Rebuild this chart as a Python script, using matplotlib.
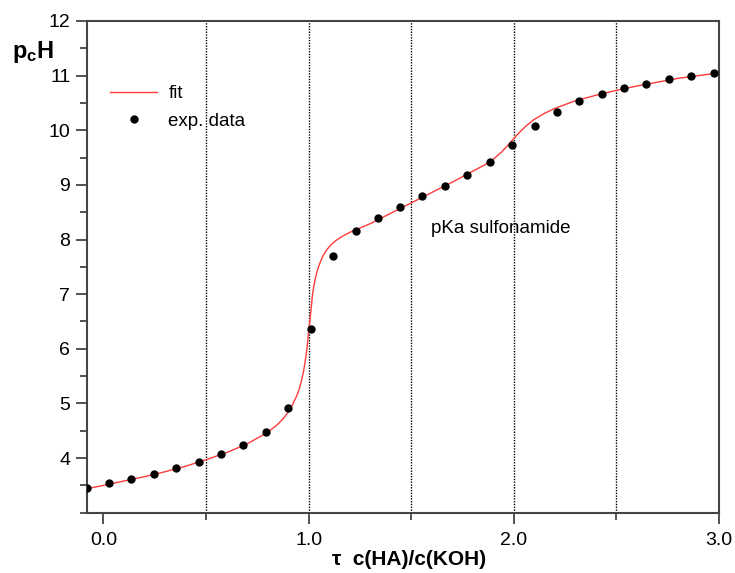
import matplotlib.pyplot as plt
from matplotlib.ticker import MultipleLocator, FixedLocator

plt.rcParams['font.family'] = ['Liberation Sans', 'DejaVu Sans']
plt.rcParams['mathtext.fontset'] = 'custom'
plt.rcParams['mathtext.bf'] = 'Liberation Sans:bold'
plt.rcParams['mathtext.rm'] = 'Liberation Sans'

tau_exp = [-0.08, 0.027, 0.136, 0.245, 0.354, 0.464, 0.573, 0.681, 0.79, 0.90,
           1.01, 1.117, 1.229, 1.337, 1.446, 1.555, 1.664, 1.774, 1.883, 1.992,
           2.101, 2.21, 2.32, 2.43, 2.537, 2.646, 2.755, 2.866, 2.974]
pch_exp = [3.46, 3.54, 3.62, 3.71, 3.81, 3.93, 4.07, 4.24, 4.48, 4.92,
           6.36, 7.70, 8.15, 8.40, 8.60, 8.79, 8.98, 9.18, 9.41, 9.73,
           10.07, 10.34, 10.54, 10.66, 10.77, 10.85, 10.93, 10.99, 11.04]

# fit curve
tau_fit = [-0.08, 0.0, 0.1, 0.2, 0.3, 0.4, 0.5, 0.6, 0.7, 0.8, 0.85, 0.88, 0.91,
           0.941, 0.955, 0.966, 0.975, 0.982, 0.988, 0.993, 0.997, 1.001, 1.006,
           1.01, 1.014, 1.018, 1.024, 1.031, 1.042, 1.055, 1.07, 1.088, 1.11,
           1.136, 1.165, 1.2, 1.25, 1.3, 1.4, 1.5, 1.6, 1.7, 1.8, 1.86, 1.9,
           1.94, 1.97, 2.0, 2.03, 2.06, 2.1, 2.15, 2.2, 2.3, 2.4, 2.5, 2.6,
           2.7, 2.8, 2.9, 3.0]
pch_fit = [3.44, 3.50, 3.58, 3.66, 3.75, 3.85, 3.97, 4.10, 4.26, 4.47, 4.62, 4.74, 4.89,
           5.13, 5.27, 5.43, 5.58, 5.74, 5.89, 6.04, 6.19, 6.35, 6.50,
           6.65, 6.80, 6.96, 7.12, 7.26, 7.43, 7.57, 7.70, 7.81, 7.91,
           7.99, 8.06, 8.13, 8.21, 8.29, 8.48, 8.67, 8.86, 9.05, 9.25, 9.37, 9.47,
           9.60, 9.72, 9.85, 9.97, 10.08, 10.20, 10.31, 10.40, 10.54, 10.64, 10.73, 10.81,
           10.88, 10.95, 11.00, 11.05]

grid_x = [0.5, 1.0, 1.5, 2.0, 2.5]

fig = plt.figure(figsize=(7.35, 5.73), dpi=100)
ax = fig.add_axes([0.1184, 0.1052, 0.8598, 0.8582])

for gx in grid_x:
    ax.axvline(gx, color='black', lw=1.0, ls=(0, (1, 1)), zorder=1)

ax.plot(tau_fit, pch_fit, color='#ff3b3b', lw=1.0, label='fit', zorder=2)
ax.plot(tau_exp, pch_exp, 'o', color='black', ms=5, label='exp. data', zorder=3)

ax.set_xlim(-0.08, 3.0)
ax.set_ylim(3, 12)
ax.xaxis.set_major_locator(FixedLocator([0, 1, 2, 3]))
ax.xaxis.set_minor_locator(FixedLocator([0.5, 1.5, 2.5]))
ax.set_xticklabels(['0.0', '1.0', '2.0', '3.0'])
ax.yaxis.set_major_locator(FixedLocator(range(4, 13)))
ax.yaxis.set_minor_locator(MultipleLocator(0.5))

for s in ax.spines.values():
    s.set_color('#444444')
    s.set_linewidth(1.5)
ax.tick_params(which='both', direction='out', color='#444444', width=1.3,
               labelsize=14, top=False, right=False)
ax.tick_params(axis='x', which='major', length=8, pad=6)
ax.tick_params(axis='y', which='major', length=8, pad=4)
ax.tick_params(which='minor', length=5)

ax.set_xlabel('τ  c(HA)/c(KOH)', fontsize=15, fontweight='bold')
ax.xaxis.set_label_coords(0.51, -0.075)
ax.text(-0.085, 0.937, r'$\mathbf{p_{c}H}$', transform=ax.transAxes,
        fontsize=17, ha='center', va='center')

ax.text(1.595, 8.21, 'pKa sulfonamide', fontsize=13.5, ha='left', va='center')

ax.legend(loc='upper left', bbox_to_anchor=(0.01, 0.904), frameon=False,
          fontsize=13.5, handlelength=2.5, handletextpad=0.6, labelspacing=0.55)

fig.savefig('out.png', dpi=100)
